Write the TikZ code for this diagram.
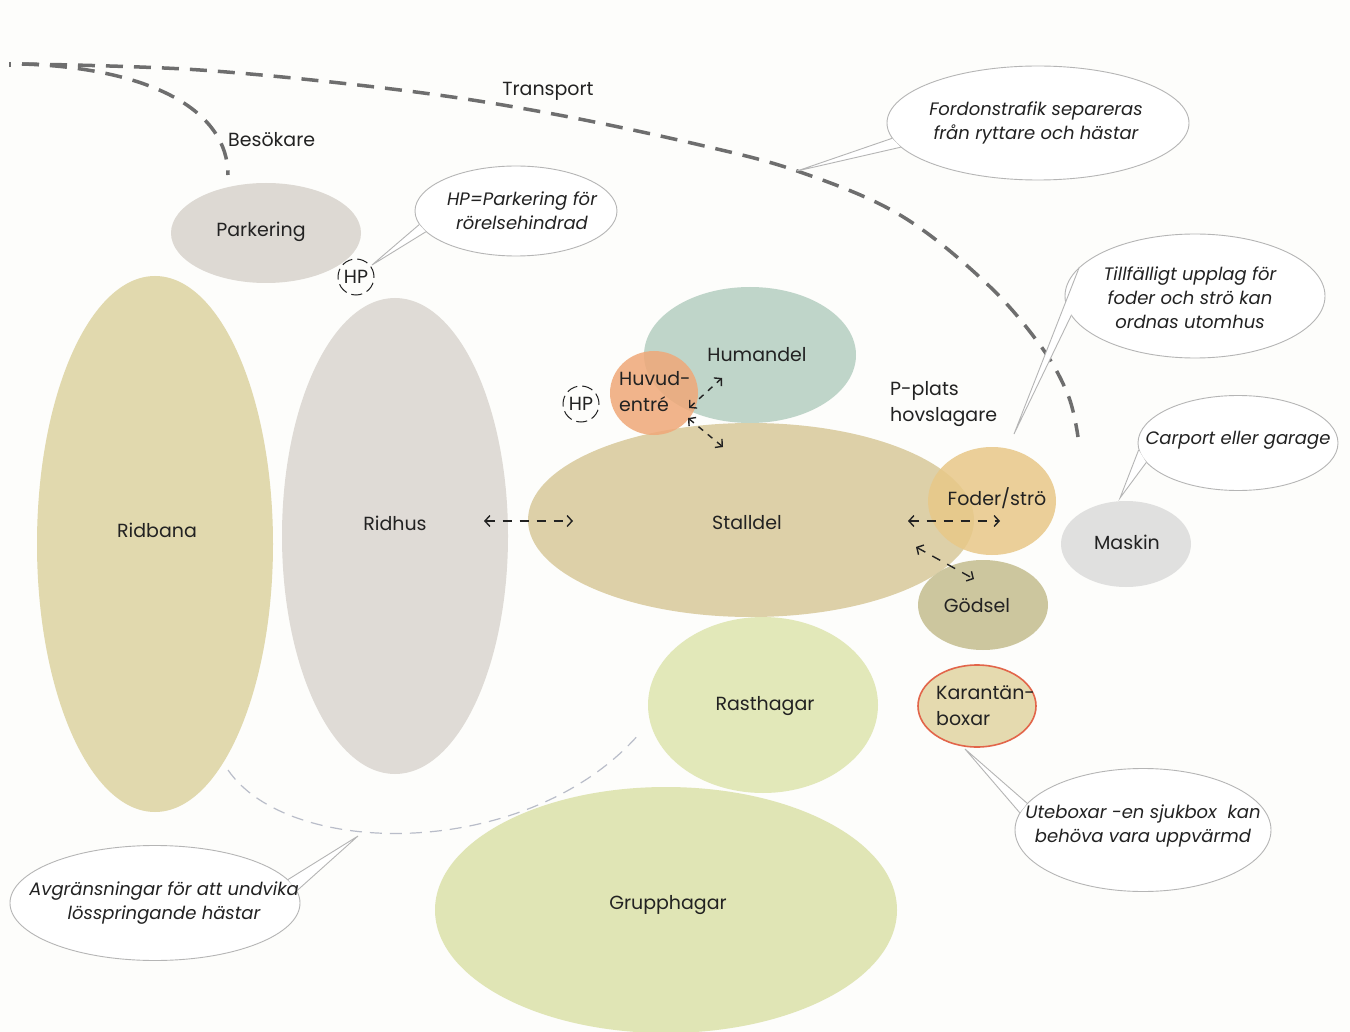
\documentclass[tikz,border=0pt]{standalone}
\usepackage{fontspec}
\setmainfont{Poppins}
\usetikzlibrary{shapes.geometric,arrows.meta,calc}
\definecolor{bg}{HTML}{FDFDFB}
\definecolor{txt}{HTML}{222222}
\definecolor{cridbana}{HTML}{E1D9AE}
\definecolor{cridhus}{HTML}{DFDBD6}
\definecolor{cpark}{HTML}{DDD9D3}
\definecolor{chuman}{HTML}{BFD5C9}
\definecolor{chuvud}{HTML}{F0A878}
\definecolor{cstall}{HTML}{DDD0A8}
\definecolor{cfoder}{HTML}{E8C888}
\definecolor{cgodsel}{HTML}{CCC69E}
\definecolor{cmaskin}{HTML}{E0E0DF}
\definecolor{ckaran}{HTML}{E5DAAF}
\definecolor{ckaranline}{HTML}{E2654A}
\definecolor{crast}{HTML}{E2E8B9}
\definecolor{cgrupp}{HTML}{E0E5B5}
\definecolor{bubline}{HTML}{B5B5B5}
\definecolor{roadgray}{HTML}{6E6E6E}
\definecolor{fencecol}{HTML}{B9BDC9}
\newcommand\lbl{\fontsize{19}{26}\selectfont}
\newcommand\bub{\fontsize{18}{24}\selectfont\itshape}
\newcommand\bubtail[4]{%
  \fill[white] (#1.#2) -- (#4) -- (#1.#3) -- cycle;
  \draw[tailline] (#1.#2) -- (#4) -- (#1.#3);}
\tikzset{
  blob/.style={ellipse, inner sep=0pt, text=txt, font=\lbl, align=left},
  bubble/.style={ellipse, draw=bubline, line width=0.9pt, fill=white, inner sep=0pt},
  bubtext/.style={font=\bub, align=center, text=txt, inner sep=0pt},
  tailline/.style={draw=bubline, line width=0.9pt, line join=miter},
  road/.style={draw=roadgray, line width=3.5pt, dash pattern=on 17pt off 11pt},
  fence/.style={draw=fencecol, line width=1.2pt, dash pattern=on 12pt off 8pt},
  dbl/.style={draw=txt, line width=1.4pt, dash pattern=on 9pt off 8pt,
    {Straight Barb[length=5pt,width=11pt]}-{Straight Barb[length=5pt,width=11pt]}},
  hpcirc/.style={circle, draw=txt, line width=1pt, dash pattern=on 11pt off 5pt, minimum size=36pt, inner sep=0pt, font=\lbl, text=txt},
  plain/.style={text=txt, font=\lbl, inner sep=0pt, align=left}
}
\begin{document}
\begin{tikzpicture}[x=1pt,y=-1pt]
\fill[bg] (0,0) rectangle (1350,1032);
\useasboundingbox (0,0) rectangle (1350,1032);

% roads
\coordinate (rstart) at (22,64);
\coordinate (rend) at (1078,437);
\coordinate (vend) at (228,175);
\draw[road] plot[smooth, tension=0.6] coordinates {(rstart) (200,70) (400,90) (548,113) (700,145) (800,172) (900,215) (985,282) (1040,345) (1068,395) (rend)};
\draw[road] (rstart) .. controls (150,68) and (228,110) .. (vend);
\draw[roadgray, line width=1.5pt] (10,62) -- (10,67);
\node[plain] (transport) at (548,91) {Transport};
\node[plain, anchor=west] (besok) at (228,140) {Besökare};

% fence
\coordinate (f1) at (228,770);
\coordinate (f2) at (640,733);
\draw[fence] (f1) .. controls (290,860) and (530,860) .. (f2);

% areas
\node[blob, fill=cridbana, minimum width=236pt, minimum height=536pt] (ridbana) at (155,544) {};
\node[plain] at (157,530) {Ridbana};
\node[blob, fill=cridhus, minimum width=226pt, minimum height=476pt] (ridhus) at (395,536) {};
\node[plain] at (395,523) {Ridhus};
\node[blob, fill=cpark, minimum width=190pt, minimum height=100pt] (parkering) at (266,233) {};
\node[plain] at (261,232) {Parkering};
\node[blob, fill=chuman, minimum width=212pt, minimum height=136pt] (humandel) at (750,355) {};
\node[plain] at (757,355) {Humandel};
\node[blob, fill=cstall, minimum width=446pt, minimum height=194pt] (stalldel) at (751,520) {};
\node[plain] at (747,523) {Stalldel};
\node[blob, fill=chuvud, fill opacity=0.85, text opacity=1, minimum width=88pt, minimum height=84pt] (huvud) at (654,393) {};
\node[plain, anchor=west] at (619,392) {Huvud-\\entré};
\node[blob, fill=cfoder, fill opacity=0.85, minimum width=128pt, minimum height=108pt] (foder) at (992,501) {};
\node[plain] at (997,498) {Foder/strö};
\node[blob, fill=cgodsel, minimum width=130pt, minimum height=90pt] (godsel) at (983,605) {};
\node[plain] at (977,606) {Gödsel};
\node[blob, fill=cmaskin, minimum width=130pt, minimum height=86pt] (maskin) at (1126,544) {};
\node[plain] at (1127,542) {Maskin};
\node[blob, fill=ckaran, draw=ckaranline, line width=1.6pt, minimum width=118pt, minimum height=82pt] (karantan) at (977,706) {};
\node[plain, anchor=west] at (936,706) {Karantän-\\boxar};
\node[blob, fill=crast, minimum width=230pt, minimum height=176pt] (rast) at (763,705) {};
\node[plain] at (765,706) {Rasthagar};
\node[blob, fill=cgrupp, minimum width=462pt, minimum height=246pt] (grupp) at (666,910) {};
\node[plain] at (668,905) {Grupphagar};
\node[plain, anchor=west] (pplats) at (890,404) {P-plats\\hovslagare};

% HP markers
\node[hpcirc] (hp1) at (356,277) {HP};
\node[hpcirc] (hp2) at (581,404) {HP};

% flow arrows
\coordinate (a1) at (484,521); \coordinate (a2) at (573,521);
\coordinate (b1) at (689,408); \coordinate (b2) at (722,378);
\coordinate (c1) at (688,418); \coordinate (c2) at (723,447);
\coordinate (d1) at (908,521); \coordinate (d2) at (1000,521);
\coordinate (e1) at (916,547); \coordinate (e2) at (974,579);
\draw[dbl] (a1) -- (a2);
\draw[dbl, dash pattern=on 6pt off 6pt] (b1) -- (b2);
\draw[dbl, dash pattern=on 6pt off 6pt] (c1) -- (c2);
\draw[dbl] (d1) -- (d2);
\draw[dbl] (e1) -- (e2);

% speech bubbles
\node[bubble, minimum width=302pt, minimum height=114pt] (bfordon) at (1038,123) {};
\coordinate (tfordon) at (797,171);
\bubtail{bfordon}{186}{190}{tfordon}
\node[bubtext] at (1036,123) {Fordonstrafik separeras\\från ryttare och hästar};

\node[bubble, minimum width=202pt, minimum height=90pt] (bhp) at (516,211) {};
\coordinate (thp) at (372,265);
\bubtail{bhp}{188}{193}{thp}
\node[bubtext] at (522,211) {HP=Parkering för\\rörelsehindrad};

\node[bubble, minimum width=260pt, minimum height=124pt] (btill) at (1195,296) {};
\coordinate (ttill) at (1014,434);
\bubtail{btill}{166}{189}{ttill}
\node[bubtext] at (1190,298) {Tillfälligt upplag för\\foder och strö kan\\ordnas utomhus};

\node[bubble, minimum width=200pt, minimum height=95pt] (bcar) at (1238,443) {};
\coordinate (tcar) at (1120,498);
\bubtail{bcar}{184}{192}{tcar}
\node[bubtext] at (1238,440) {Carport eller garage};

\node[bubble, minimum width=256pt, minimum height=123pt] (bute) at (1143,830) {};
\coordinate (tute) at (965,749);
\bubtail{bute}{167}{172}{tute}
\node[bubtext] at (1143,826) {Uteboxar -en sjukbox\ \ kan\\behöva vara uppvärmd};

\node[bubble, minimum width=290pt, minimum height=115pt] (bavg) at (155,903) {};
\coordinate (tavg) at (358,836);
\bubtail{bavg}{5}{10}{tavg}
\node[bubtext] at (164,903) {Avgränsningar för att undvika\\lösspringande hästar};
\end{tikzpicture}
\end{document}
